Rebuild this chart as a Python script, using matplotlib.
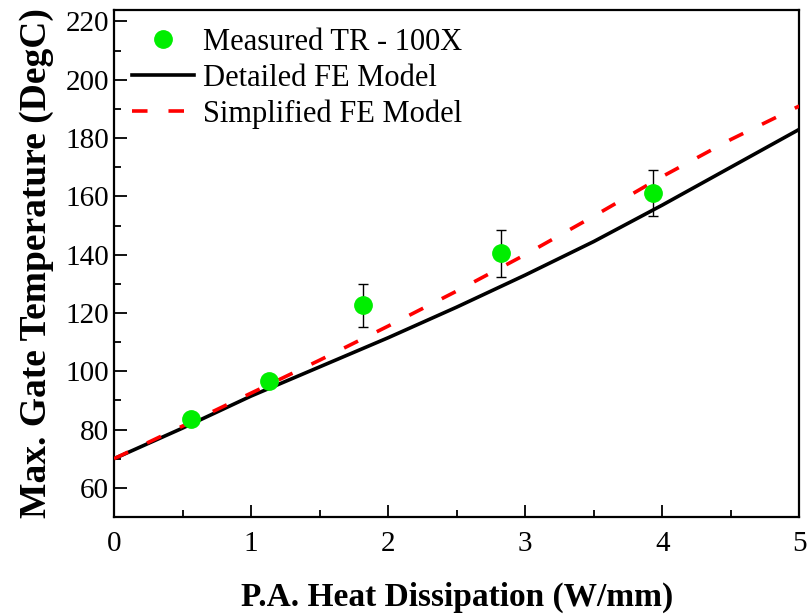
import matplotlib
matplotlib.use("Agg")
import matplotlib.pyplot as plt
from matplotlib.ticker import MultipleLocator

# measured points (TR - 100X)
meas_x = [0.56, 1.13, 1.82, 2.82, 3.93]
meas_y = [83.5, 96.8, 122.6, 140.4, 161.2]
meas_err = [0.0, 0.0, 7.3, 8.0, 8.0]

# model curves
model_x = [0.0, 0.5, 1.0, 1.5, 2.0, 2.5, 3.0, 3.5, 4.0, 4.5, 5.0]
detailed_y = [70.0, 80.5, 91.5, 101.5, 111.5, 122.0, 133.0, 144.5, 157.0, 170.0, 183.0]
simplified_y = [70.0, 81.2, 92.5, 103.8, 115.5, 127.5, 140.0, 153.2, 166.8, 179.5, 191.0]

plt.rcParams["font.family"] = ["Liberation Serif", "DejaVu Serif"]

fig = plt.figure(figsize=(8.09, 6.14), dpi=100)
ax = fig.add_axes([0.141, 0.158, 0.847, 0.826])

ax.errorbar(meas_x, meas_y, yerr=meas_err, fmt="none", ecolor="black",
            elinewidth=1.0, capsize=3.6, capthick=1.0, zorder=4)
pts, = ax.plot(meas_x, meas_y, "o", color="#00ee00", markersize=12.5,
               label="Measured TR - 100X", zorder=5)
det, = ax.plot(model_x, detailed_y, color="black", lw=2.6,
               label="Detailed FE Model", zorder=2)
sim, = ax.plot(model_x, simplified_y, color="#ff0000", lw=2.6, dashes=(4.3, 5.8),
               label="Simplified FE Model", zorder=3)

ax.set_xlim(0, 5)
ax.set_ylim(50, 224)
ax.xaxis.set_major_locator(MultipleLocator(1))
ax.xaxis.set_minor_locator(MultipleLocator(0.5))
ax.yaxis.set_minor_locator(MultipleLocator(10))
ax.set_yticks(range(60, 221, 20))
ax.tick_params(which="both", direction="in", top=False, right=False, width=1.3,
               labelsize=21)
ax.tick_params(which="major", length=9)
ax.tick_params(which="minor", length=5)
ax.tick_params(axis="x", pad=10)
for s in ax.spines.values():
    s.set_linewidth(1.6)

ax.set_xlabel("P.A. Heat Dissipation (W/mm)", fontsize=24, fontweight="bold", labelpad=18)
ax.set_ylabel("Max. Gate Temperature (DegC)", fontsize=27, fontweight="bold", labelpad=8)

ax.legend(handles=[pts, det, sim], loc="upper left", frameon=False, fontsize=22,
          handlelength=2.0, handletextpad=0.3, labelspacing=0.22,
          borderaxespad=0.2, bbox_to_anchor=(0.0, 1.0))

fig.savefig("out.png", dpi=100)
